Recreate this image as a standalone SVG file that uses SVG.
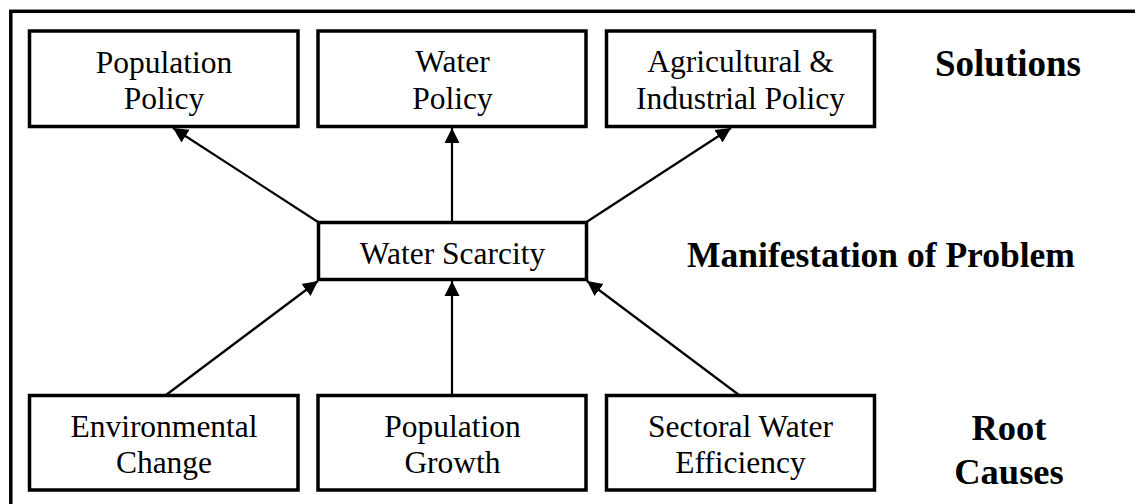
<svg xmlns="http://www.w3.org/2000/svg" width="1135" height="504" viewBox="0 0 1135 504">
<style>
.box{fill:#fff;stroke:#000;stroke-width:3.5}
.t{font-family:"Liberation Serif","Times New Roman",serif;font-size:31.5px;text-anchor:middle;fill:#000}
.b{font-family:"Liberation Serif","Times New Roman",serif;font-weight:bold;text-anchor:middle;fill:#000}
.c{stroke:#000;stroke-width:2.2;fill:none;marker-end:url(#ah)}
</style>
<defs>
<marker id="ah" markerUnits="userSpaceOnUse" markerWidth="16" markerHeight="16" refX="15" refY="8" orient="auto">
<path d="M0,0.5 L15,8 L0,15.5 z" fill="#000"/>
</marker>
</defs>
<rect width="1135" height="504" fill="#fff"/>
<rect x="10.8" y="11.3" width="1135" height="500" fill="none" stroke="#000" stroke-width="3.5"/>
<g id="connectors">
<line class="c" x1="318" y1="222" x2="173" y2="128"/>
<line class="c" x1="452" y1="222" x2="452" y2="128"/>
<line class="c" x1="586.5" y1="222" x2="731" y2="128"/>
<line class="c" x1="166" y1="395" x2="318" y2="281"/>
<line class="c" x1="452" y1="395" x2="452" y2="281"/>
<line class="c" x1="739" y1="395" x2="587" y2="281"/>
</g>
<g id="pop-policy">
<rect class="box" x="29.5" y="31" width="268.5" height="95.5"/>
<text class="t" x="164" y="72.5">Population</text>
<text class="t" x="164" y="109">Policy</text>
</g>
<g id="water-policy">
<rect class="box" x="318" y="31" width="268" height="95.5"/>
<text class="t" x="452.5" y="72">Water</text>
<text class="t" x="452.5" y="108.5">Policy</text>
</g>
<g id="agri-policy">
<rect class="box" x="606.5" y="31" width="268" height="95.5"/>
<text class="t" x="740.5" y="72">Agricultural &amp;</text>
<text class="t" x="740.5" y="108.5">Industrial Policy</text>
</g>
<g id="water-scarcity">
<rect class="box" x="318.5" y="222.5" width="268" height="57"/>
<text class="t" x="452.5" y="263.5">Water Scarcity</text>
</g>
<g id="env-change">
<rect class="box" x="29.5" y="395.5" width="268.5" height="94.5"/>
<text class="t" x="164" y="436.5">Environmental</text>
<text class="t" x="164" y="473">Change</text>
</g>
<g id="pop-growth">
<rect class="box" x="318" y="395.5" width="268" height="94.5"/>
<text class="t" x="452.5" y="436.5">Population</text>
<text class="t" x="452.5" y="473">Growth</text>
</g>
<g id="sectoral">
<rect class="box" x="606.5" y="395.5" width="268" height="94.5"/>
<text class="t" x="740.5" y="436.5">Sectoral Water</text>
<text class="t" x="740.5" y="473">Efficiency</text>
</g>
<g id="labels">
<text class="b" x="1008" y="76" font-size="37">Solutions</text>
<text class="b" x="881" y="266.5" font-size="35.5">Manifestation of Problem</text>
<text class="b" x="1009" y="439.5" font-size="36.5">Root</text>
<text class="b" x="1009" y="483.5" font-size="36.5">Causes</text>
</g>
</svg>
